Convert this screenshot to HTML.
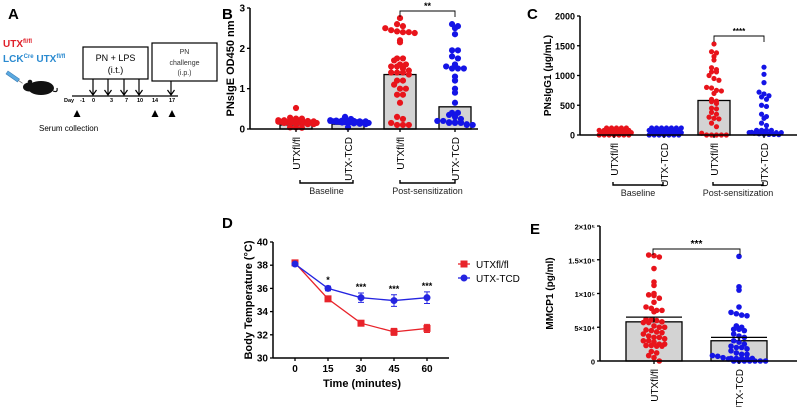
<!DOCTYPE html>
<html><head><meta charset="utf-8"><style>
html,body{margin:0;padding:0;background:#fff;}
svg{display:block;font-family:"Liberation Sans",Arial,sans-serif;}
</style></head><body>
<svg id="fig" width="800" height="407" viewBox="0 0 800 407">
<g>
<text x="8" y="19" font-size="15" font-weight="bold">A</text>
<text x="3" y="47" font-size="10" font-weight="bold" fill="#e0202a">UTX<tspan font-size="6" dy="-4">fl/fl</tspan></text>
<text x="3" y="62" font-size="10" font-weight="bold" fill="#2a8ad0">LCK<tspan font-size="6" dy="-4">Cre</tspan><tspan dy="4"> UTX</tspan><tspan font-size="6" dy="-4">fl/fl</tspan></text>
<g transform="translate(8,71) rotate(35)"><rect x="0" y="0" width="14" height="3.5" fill="#5aa9e0" stroke="#3d7fb8" stroke-width="0.6"/><line x1="14" y1="1.75" x2="19" y2="1.75" stroke="#777" stroke-width="0.8"/></g>
<g><ellipse cx="41" cy="88" rx="13" ry="7" fill="#111"/><ellipse cx="29" cy="87" rx="6" ry="4.5" fill="#111"/><circle cx="30" cy="82" r="2.3" fill="#111"/><path d="M53 91 Q58 93 57 88" stroke="#111" stroke-width="1.2" fill="none"/></g>
<rect x="83" y="47" width="65" height="32" fill="#fff" stroke="#000" stroke-width="1.2"/>
<text x="115.5" y="61" font-size="9" text-anchor="middle">PN + LPS</text>
<text x="115.5" y="73" font-size="9" text-anchor="middle">(i.t.)</text>
<rect x="152" y="43" width="65" height="38" fill="#fff" stroke="#000" stroke-width="1.2"/>
<text x="184.5" y="54" font-size="7" text-anchor="middle" fill="#333">PN</text>
<text x="184.5" y="65" font-size="7" text-anchor="middle" fill="#333">challenge</text>
<text x="184.5" y="75" font-size="7" text-anchor="middle" fill="#333">(i.p.)</text>
<line x1="72" y1="96" x2="178" y2="96" stroke="#000" stroke-width="1.2"/>
<g id="arrowsA"></g>
<g font-size="5.5" font-weight="bold">
<text x="64" y="102">Day</text><text x="80" y="102">-1</text><text x="92" y="102">0</text><text x="110" y="102">3</text><text x="125" y="102">7</text><text x="137" y="102">10</text><text x="152" y="102">14</text><text x="169" y="102">17</text></g>
<g fill="#000">
<polygon points="77,110 73.5,117 80.5,117"/><polygon points="155,110 151.5,117 158.5,117"/><polygon points="172,110 168.5,117 175.5,117"/></g>
<text x="39" y="131" font-size="8">Serum collection</text>
</g>
<g id="panelB"></g>
<g id="panelC"></g>
<g id="panelD"></g>
<g id="panelE"></g>
</svg>
<script>
// ---------- Panel B data ----------
const bGroups = ["UTXfl/fl","UTX-TCD","UTXfl/fl","UTX-TCD"];
const bMeans = [0.1, 0.12, 1.35, 0.55];
const bTicks = [0,1,2,3];
const b0 = [0.52,0.28,0.25,0.22,0.18,0.15,0.15,0.14,0.13,0.12,0.12,0.11,0.1,0.1,0.1,0.09,0.09,0.08,0.08,0.08,0.07,0.07,0.06,0.06,0.05,0.05,0.05,0.04,0.04,0.03];
const b1 = [0.3,0.25,0.2,0.18,0.16,0.15,0.14,0.13,0.12,0.12,0.11,0.1,0.1,0.1,0.09,0.08,0.08,0.07,0.07,0.06,0.06,0.05,0.05,0.04];
const b2 = [2.75,2.6,2.55,2.5,2.45,2.42,2.4,2.4,2.38,2.2,2.15,1.75,1.75,1.7,1.6,1.6,1.55,1.55,1.5,1.45,1.4,1.4,1.4,1.35,1.2,1.2,1.1,1.0,1.0,0.85,0.85,0.65,0.3,0.25,0.15,0.1,0.1,0.1];
const b3 = [2.6,2.55,2.5,2.35,1.95,1.95,1.8,1.75,1.6,1.55,1.5,1.5,1.5,1.3,1.2,1.0,0.9,0.65,0.4,0.4,0.35,0.3,0.25,0.2,0.2,0.15,0.15,0.15,0.1,0.1,0.1,0.1,0.1,0.05];
// ---------- Panel C data ----------
const cGroups = ["UTXfl/fl","UTX-TCD","UTXfl/fl","UTX-TCD"];
const cMeans = [0, 0, 580, 0];
const cTicks = [0,500,1000,1500,2000];
const c0 = [0,0,0,0,0,0,0,0,0,0,0,0,0,0,0,0,0,0,0,0,0,0,0,0,0,0];
const c1 = [0,0,0,0,0,0,0,0,0,0,0,0,0,0,0,0,0,0,0,0,0,0,0,0,0,0,0,0];
const c2 = [1530,1400,1380,1320,1260,1130,1100,1060,1060,1000,950,920,800,790,750,740,700,600,570,560,530,450,440,380,350,300,280,270,200,140,30,0,0,0,0,0];
const c3 = [1140,1020,880,720,690,660,640,600,500,480,350,310,280,200,160,60,40,30,20,15,10,10,5,5,0,0,0,0,0,0,0,0,0,0];
// ---------- Panel D data ----------
const dTimes = [0,15,30,45,60];
const dXTicks = [0,15,30,45,60];
const dYTicks = [30,32,34,36,38,40];
const dRed = [38.2,35.1,33.0,32.25,32.55];
const dRedErr = [0.15,0.15,0.2,0.3,0.35];
const dBlue = [38.1,36.0,35.2,34.95,35.2];
const dBlueErr = [0.1,0.2,0.4,0.5,0.5];
const dStars = ["","*","***","***","***"];
// ---------- Panel E data ----------
const eGroups = ["UTXfl/fl","UTX-TCD"];
const eMeans = [58000, 30000];
const eErr = [7000, 5000];
const eTickVals = [0,50000,100000,150000,200000];
const eTickLabels = ["0","5×10⁴","1×10⁵","1.5×10⁵","2×10⁵"];
const e0 = [157000,156000,154000,137000,117000,112000,100000,98000,97000,93000,87000,80000,78000,75000,75000,73000,62000,61000,60000,58000,57000,57000,52000,50000,50000,46000,45000,43000,42000,40000,37000,35000,35000,33000,30000,30000,28000,25000,25000,23000,23000,22000,22000,14000,12000,8000,5000,0];
const e1 = [155000,110000,105000,80000,72000,70000,68000,67000,52000,50000,47000,47000,45000,40000,37000,35000,30000,28000,25000,22000,20000,20000,18000,15000,12000,10000,10000,8000,7000,5000,3000,0,0,0,0,0,0,0,0,0,0,0,0];

const NS="http://www.w3.org/2000/svg";
function mk(tag, attrs, parent){const e=document.createElementNS(NS,tag);for(const k in attrs)e.setAttribute(k,attrs[k]);parent.appendChild(e);return e;}
function txt(parent,x,y,s,size,extra){const t=mk("text",Object.assign({x:x,y:y,"font-size":size},extra||{}),parent);t.textContent=s;return t;}

const arrowsA=document.getElementById("arrowsA");
[[93,79],[108,79],[124,79],[139,79],[171,81]].forEach(function(a){
  const l=mk("path",{d:"M"+a[0]+" "+a[1]+" V95 M"+(a[0]-3.5)+" 90 L"+a[0]+" 95 L"+(a[0]+3.5)+" 90",stroke:"#000","stroke-width":1.2,fill:"none"},arrowsA);
  
  
});

// beeswarm: bin by y, spread bin members horizontally; overflow goes into extra rows stacked upward
function swarm(vals, cx, ys, r, maxHalf){
  const d=r*2;const bins={};const order=[];const pts=[];
  vals.forEach(function(v){const py=ys(v);const key=Math.round(py/d);if(!bins[key]){bins[key]=[];order.push(key);}bins[key].push(py);});
  order.forEach(function(k){const arr=bins[k];const n=arr.length;
    const sp=d*0.95;const cap=Math.max(1,Math.floor(2*maxHalf/sp)+1);
    arr.forEach(function(py,i){const row=Math.floor(i/cap);const j=i%cap;const cnt=Math.min(cap,n-row*cap);
      const jitter=(row%2)*sp*0.5;
      pts.push([cx+(j-(cnt-1)/2)*sp+jitter,py-row*r*0.9]);});});
  return pts;
}
function dotGroup(parent, vals, cx, ys, r, color, maxHalf){
  swarm(vals,cx,ys,r,maxHalf).forEach(function(p){
    const c=mk("circle",{cx:p[0],cy:p[1],r:r,fill:color},parent);
    
    
  });
}

function barPanel(cfg){
  const g=document.getElementById(cfg.id);
  const ys=function(v){return cfg.y0-(v-cfg.ymin)/(cfg.ymax-cfg.ymin)*(cfg.y0-cfg.y1);};
  const lab=txt(g,cfg.labelX,cfg.labelY,cfg.label,15,{"font-weight":"bold"});
  
  
  cfg.means.forEach(function(m,i){
    if(m<=0) return;
    const b=mk("rect",{x:cfg.centers[i]-cfg.bw/2,y:ys(m),width:cfg.bw,height:cfg.y0-ys(m),fill:"#d3d3d3",stroke:"#000","stroke-width":1.3},g);
    
    
  });
  cfg.series.forEach(function(s,i){dotGroup(g,s,cfg.centers[i],ys,cfg.r,i%2===0?"#e8141b":"#1414e6",cfg.spread);});
  if(cfg.err){cfg.err.forEach(function(e,i){const cx=cfg.centers[i];
    const eb=mk("path",{d:"M"+cx+" "+ys(cfg.means[i])+" V"+ys(cfg.means[i]+e)+" M"+(cx-cfg.bw/2)+" "+ys(cfg.means[i]+e)+" H"+(cx+cfg.bw/2),stroke:"#000","stroke-width":1.3,fill:"none"},g);
    
    });}
  const ya=mk("line",{x1:cfg.ax,y1:cfg.y1,x2:cfg.ax,y2:cfg.y0,stroke:"#000","stroke-width":1.5},g);
  
  
  const xa=mk("line",{x1:cfg.ax,y1:cfg.y0,x2:cfg.xend,y2:cfg.y0,stroke:"#000","stroke-width":1.5},g);
  
  
  cfg.ticks.forEach(function(t,i){
    mk("line",{x1:cfg.ax-3,y1:ys(t),x2:cfg.ax,y2:ys(t),stroke:"#000","stroke-width":1.3},g);
    const tl=txt(g,cfg.ax-5,ys(t)+3.5,cfg.tickLabels?cfg.tickLabels[i]:String(t),cfg.tickSize,{"text-anchor":"end","font-weight":"bold"});
    
    
  });
  const yt=txt(g,0,0,cfg.ytitle,cfg.ytSize,{"text-anchor":"middle","font-weight":"bold",transform:"translate("+cfg.ytX+","+((cfg.y0+cfg.y1)/2)+") rotate(-90)"});
  
  
  cfg.groups.forEach(function(s,i){
    mk("line",{x1:cfg.centers[i],y1:cfg.y0,x2:cfg.centers[i],y2:cfg.y0+3,stroke:"#000","stroke-width":1.3},g);
    const xl=txt(g,0,0,s,cfg.xlSize,{"text-anchor":"end",transform:"translate("+(cfg.centers[i]+4)+","+(cfg.y0+8)+") rotate(-90)"});
    
    
  });
  const sb=cfg.sig;
  const br=mk("path",{d:"M"+sb.x1+" "+(sb.y+6)+" V"+sb.y+" H"+sb.x2+" V"+(sb.y+6),stroke:"#000","stroke-width":0.9,fill:"none"},g);
  
  
  const st=txt(g,(sb.x1+sb.x2)/2,sb.y-2,sb.stars,sb.size,{"text-anchor":"middle","font-weight":"bold"});
  
  
  if(cfg.brackets){cfg.brackets.forEach(function(b){
    const bk=mk("path",{d:"M"+b[0]+" "+(b[2]-3)+" V"+b[2]+" H"+b[1]+" V"+(b[2]-3),stroke:"#000","stroke-width":1.4,fill:"none"},g);
    
    
    const bt=txt(g,(b[0]+b[1])/2,b[2]+11,b[3],9,{"text-anchor":"middle",fill:"#222"});
    
    
  });}
}

barPanel({id:"panelB",label:"B",labelX:222,labelY:19,ax:250,xend:478,y0:129,y1:8,ymin:0,ymax:3,
  ticks:bTicks,tickSize:10,ytitle:"PNsIgE OD450 nm",ytSize:11,ytX:234,groups:bGroups,xlSize:10,
  centers:[296,348,400,455],bw:32,means:bMeans,series:[b0,b1,b2,b3],r:3.1,spread:20,
  sig:{x1:400,x2:455,y:11,stars:"**",size:9},
  brackets:[[300,353,183,"Baseline"],[400,455,183,"Post-sensitization"]]});

barPanel({id:"panelC",label:"C",labelX:527,labelY:19,ax:580,xend:797,y0:135,y1:16,ymin:0,ymax:2000,
  ticks:cTicks,tickSize:9,ytitle:"PNsIgG1 (μg/mL)",ytSize:10,ytX:551,groups:cGroups,xlSize:10,
  centers:[614,664,714,764],bw:32,means:cMeans,series:[c0,c1,c2,c3],r:2.6,spread:17,
  sig:{x1:714,x2:764,y:36,stars:"****",size:8},
  brackets:[[613,663,185,"Baseline"],[713,763,185,"Post-sensitization"]]});

barPanel({id:"panelE",label:"E",labelX:530,labelY:234,ax:600,xend:797,y0:361,y1:226,ymin:0,ymax:200000,
  ticks:eTickVals,tickLabels:eTickLabels,tickSize:7.5,ytitle:"MMCP1 (pg/ml)",ytSize:10,ytX:553,groups:eGroups,xlSize:10,
  centers:[654,739],bw:56,means:eMeans,series:[e0,e1],r:2.8,spread:28,err:eErr,
  sig:{x1:653,x2:740,y:249,stars:"***",size:10}});

(function(){
  const g=document.getElementById("panelD");
  const ax=273,y0=358,y1=242,x0=295,x60=427;
  const xs=function(t){return x0+(t-0)/60*(x60-x0);};
  const ys=function(v){return y0-(v-30)/10*(y0-y1);};
  const lab=txt(g,222,228,"D",15,{"font-weight":"bold"});
  
  
  const ya=mk("line",{x1:ax,y1:y1,x2:ax,y2:y0,stroke:"#000","stroke-width":1.5},g);
  
  
  const xa=mk("line",{x1:ax,y1:y0,x2:449,y2:y0,stroke:"#000","stroke-width":1.5},g);
  
  
  dYTicks.forEach(function(t){mk("line",{x1:ax-3,y1:ys(t),x2:ax,y2:ys(t),stroke:"#000","stroke-width":1.3},g);
    const tl=txt(g,ax-5,ys(t)+3.5,String(t),10,{"text-anchor":"end","font-weight":"bold"});
    
    });
  dXTicks.forEach(function(t){mk("line",{x1:xs(t),y1:y0,x2:xs(t),y2:y0+3,stroke:"#000","stroke-width":1.3},g);
    const tl=txt(g,xs(t),y0+14,String(t),10,{"text-anchor":"middle","font-weight":"bold"});
    
    });
  const xt=txt(g,362,387,"Time (minutes)",11,{"text-anchor":"middle","font-weight":"bold"});
  
  
  const yt=txt(g,0,0,"Body Temperature (°C)",11,{"text-anchor":"middle","font-weight":"bold",transform:"translate(252,300) rotate(-90)"});
  
  
  function series(vals,errs,color,shape,name){
    const pts=vals.map(function(v,i){return xs(dTimes[i])+","+ys(v);}).join(" ");
    const pl=mk("polyline",{points:pts,fill:"none",stroke:color,"stroke-width":1.3},g);
    
    
    vals.forEach(function(v,i){const x=xs(dTimes[i]);
      const eb=mk("path",{d:"M"+x+" "+ys(v-errs[i])+" V"+ys(v+errs[i])+" M"+(x-3)+" "+ys(v-errs[i])+" H"+(x+3)+" M"+(x-3)+" "+ys(v+errs[i])+" H"+(x+3),stroke:color,"stroke-width":1,fill:"none"},g);
      
      
      let m;
      if(shape==="sq"){m=mk("rect",{x:x-3.5,y:ys(v)-3.5,width:7,height:7,fill:color},g);}
      else{m=mk("circle",{cx:x,cy:ys(v),r:3.5,fill:color},g);}
      
      
    });
  }
  series(dRed,dRedErr,"#e8232a","sq","utxflfl");
  series(dBlue,dBlueErr,"#2424e0","ci","utx-tcd");
  dStars.forEach(function(s,i){if(!s)return;
    const st=txt(g,xs(dTimes[i]),ys(dBlue[i]+dBlueErr[i])-3,s,9,{"text-anchor":"middle","font-weight":"bold"});
    
    });
  const l1=mk("line",{x1:458,y1:264,x2:470,y2:264,stroke:"#e8232a","stroke-width":1.3},g);
  
  
  const lm1=mk("rect",{x:460.5,y:260.5,width:7,height:7,fill:"#e8232a"},g);
  
  
  const lt1=txt(g,476,268,"UTXfl/fl",10,{});
  
  
  const l2=mk("line",{x1:458,y1:278,x2:470,y2:278,stroke:"#2424e0","stroke-width":1.3},g);
  
  
  const lm2=mk("circle",{cx:464,cy:278,r:3.5,fill:"#2424e0"},g);
  
  
  const lt2=txt(g,476,282,"UTX-TCD",10,{});
  
  
})();
</script>
</body></html>
